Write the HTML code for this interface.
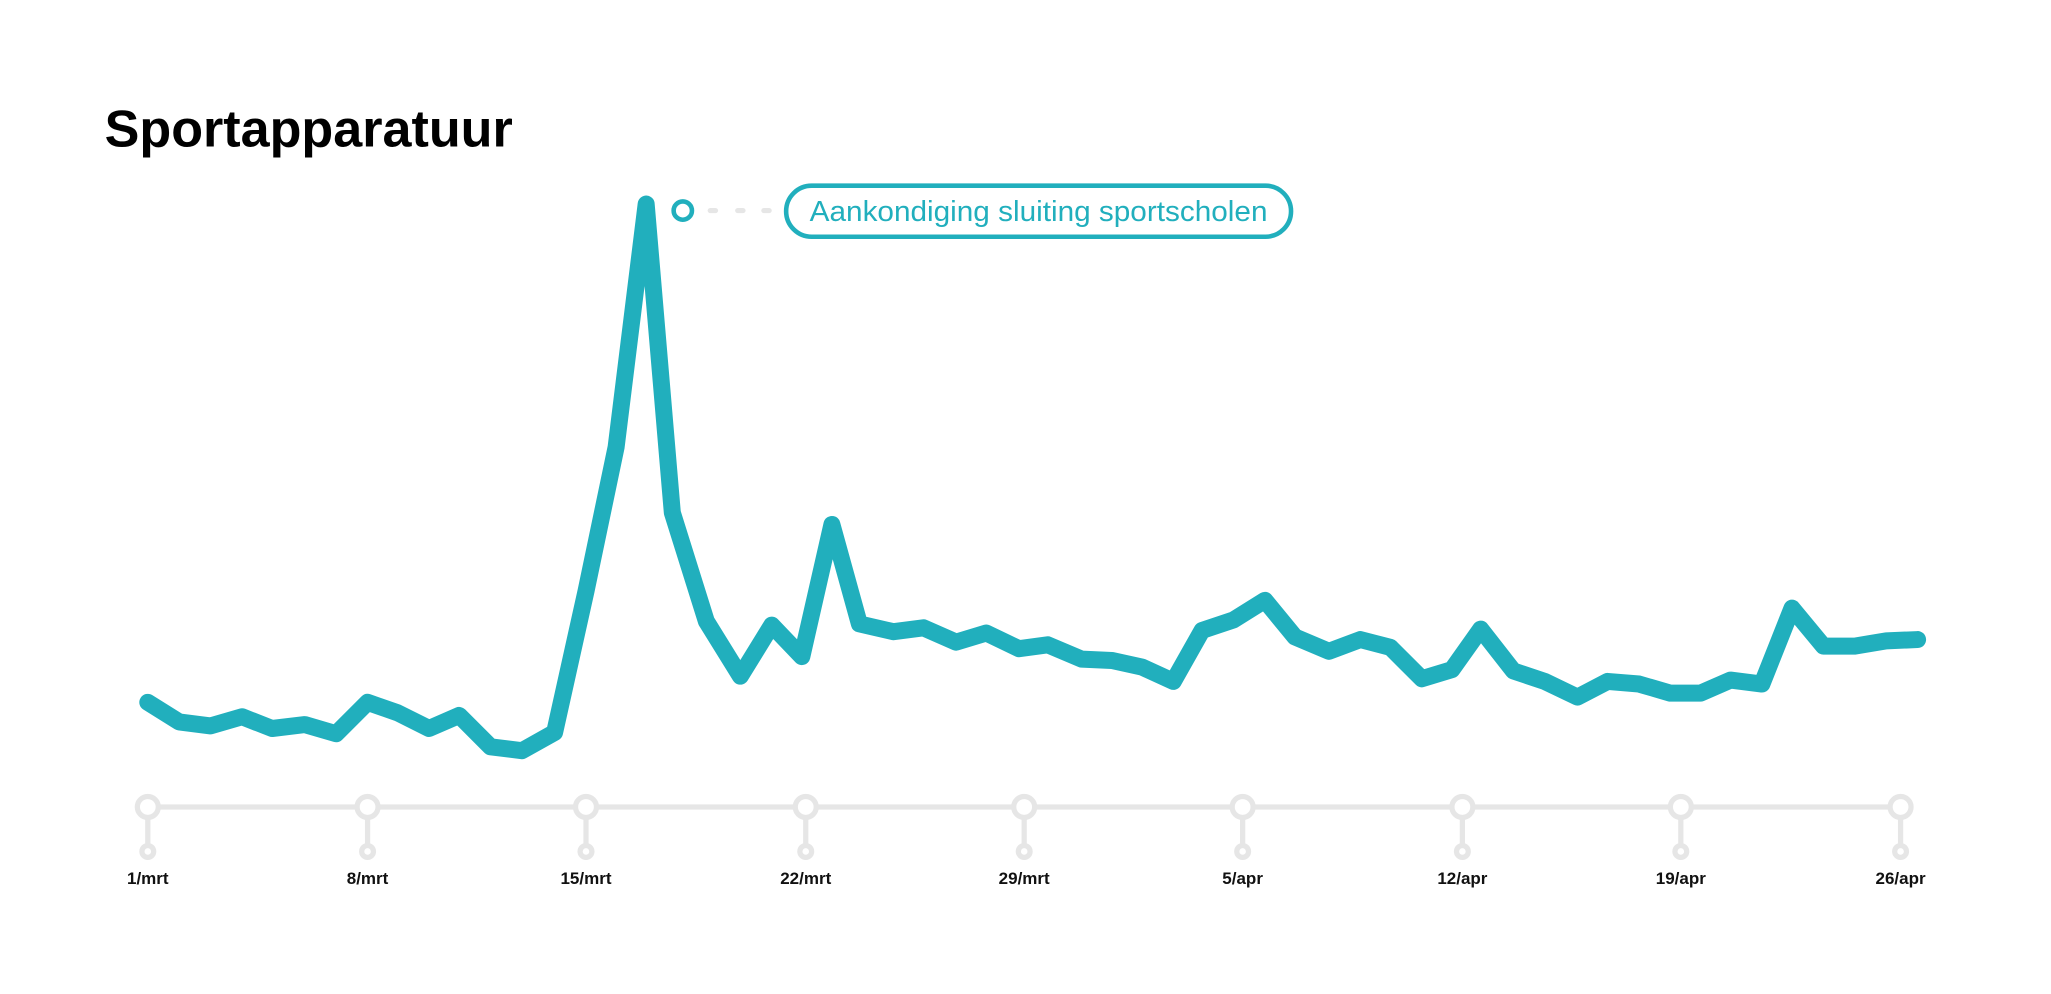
<!DOCTYPE html>
<html><head><meta charset="utf-8"><style>
html,body{margin:0;padding:0;background:#fff;}
svg{display:block;}
</style></head><body>
<svg width="2051" height="994" viewBox="0 0 1568 760" preserveAspectRatio="none" xmlns="http://www.w3.org/2000/svg">
<rect width="1568" height="760" fill="#fff"/>
<text x="80" y="112" font-family="Liberation Sans, sans-serif" font-weight="bold" font-size="40" textLength="312" lengthAdjust="spacingAndGlyphs" fill="#000">Sportapparatuur</text>
<g stroke="#e6e6e6" stroke-width="4" fill="#fff">
<line x1="113" y1="617" x2="1453" y2="617"/>
<line x1="113" y1="617" x2="113" y2="651"/><circle cx="113" cy="617" r="8"/><circle cx="113" cy="651" r="4.5"/>
<line x1="281" y1="617" x2="281" y2="651"/><circle cx="281" cy="617" r="8"/><circle cx="281" cy="651" r="4.5"/>
<line x1="448" y1="617" x2="448" y2="651"/><circle cx="448" cy="617" r="8"/><circle cx="448" cy="651" r="4.5"/>
<line x1="616" y1="617" x2="616" y2="651"/><circle cx="616" cy="617" r="8"/><circle cx="616" cy="651" r="4.5"/>
<line x1="783" y1="617" x2="783" y2="651"/><circle cx="783" cy="617" r="8"/><circle cx="783" cy="651" r="4.5"/>
<line x1="950" y1="617" x2="950" y2="651"/><circle cx="950" cy="617" r="8"/><circle cx="950" cy="651" r="4.5"/>
<line x1="1118" y1="617" x2="1118" y2="651"/><circle cx="1118" cy="617" r="8"/><circle cx="1118" cy="651" r="4.5"/>
<line x1="1285" y1="617" x2="1285" y2="651"/><circle cx="1285" cy="617" r="8"/><circle cx="1285" cy="651" r="4.5"/>
<line x1="1453" y1="617" x2="1453" y2="651"/><circle cx="1453" cy="617" r="8"/><circle cx="1453" cy="651" r="4.5"/>
</g>
<g font-family="Liberation Sans, sans-serif" font-weight="bold" font-size="13" fill="#111" text-anchor="middle">
<text x="113" y="676">1/mrt</text>
<text x="281" y="676">8/mrt</text>
<text x="448" y="676">15/mrt</text>
<text x="616" y="676">22/mrt</text>
<text x="783" y="676">29/mrt</text>
<text x="950" y="676">5/apr</text>
<text x="1118" y="676">12/apr</text>
<text x="1285" y="676">19/apr</text>
<text x="1453" y="676">26/apr</text>
</g>
<polyline fill="none" stroke="#21afbd" stroke-width="13" stroke-linejoin="round" stroke-linecap="round" points="113,537 137,552 161,555 185,548 208,557 233,554 257,561 281,537 304,545 328,557 351,547 375,571 399,574 424,560 448,452 471,342 494,156 514,392 540,475 566,517 590,478 613,502 636,401 657,477 683,483 706,480 731,491 754,484 779,496 801,493 827,504 850,505 873,510 897,521 919,482 943,474 967,459 990,487 1016,498 1040,489 1063,495 1087,519 1110,512 1132,481 1157,513 1181,521 1206,533 1229,521 1253,523 1277,530 1300,530 1323,520 1347,523 1370,465 1394,494 1418,494 1442,490 1466,489"/>
<circle cx="522" cy="161" r="7" fill="#fff" stroke="#21afbd" stroke-width="3.5"/>
<g stroke="#e6e6e6" stroke-width="4" stroke-linecap="round"><line x1="543" y1="161" x2="547" y2="161"/><line x1="564" y1="161" x2="568" y2="161"/><line x1="584" y1="161" x2="588" y2="161"/></g>
<rect x="601" y="142" width="386" height="39" rx="19.5" fill="#fff" stroke="#21afbd" stroke-width="3.5"/>
<text x="794" y="169" text-anchor="middle" font-family="Liberation Sans, sans-serif" font-size="22" fill="#21afbd" textLength="350" lengthAdjust="spacingAndGlyphs">Aankondiging sluiting sportscholen</text>
</svg>
</body></html>
